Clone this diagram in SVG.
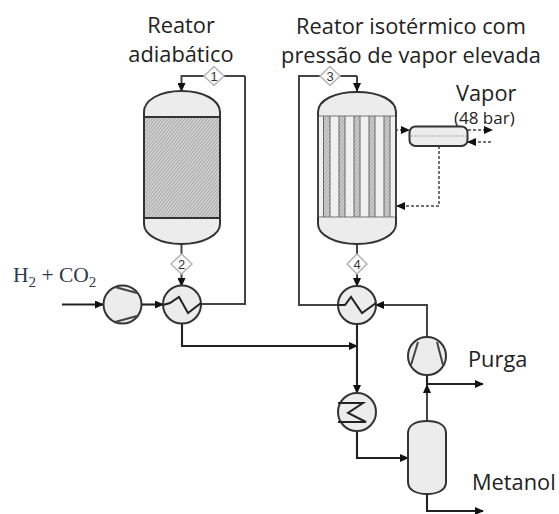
<svg xmlns="http://www.w3.org/2000/svg" width="559" height="514" viewBox="0 0 559 514">
<style>
.lbl{font-family:"Open Sans","Noto Sans",sans-serif;font-size:21.800px;fill:#222}
.num{font-family:"Liberation Sans",sans-serif;font-size:13px;fill:#333;text-anchor:middle}
.eq{fill:#ececec;stroke:#333;stroke-width:2}
.ln{fill:none;stroke:#444;stroke-width:2}
.dk{fill:none;stroke:#222;stroke-width:2.100}
.ds{fill:none;stroke:#444;stroke-width:1.500;stroke-dasharray:3 2}
.dia{fill:#fff;stroke:#b4b4b4;stroke-width:1.500}
</style>
<defs>
<pattern id="h" width="2.500" height="2.500" patternUnits="userSpaceOnUse" patternTransform="rotate(-50)">
<rect width="2.500" height="2.500" fill="#d4d4d4"/><rect width="2.500" height="0.900" fill="#a0a0a0"/>
</pattern>
<marker id="a" markerWidth="9" markerHeight="8" refX="8" refY="4" orient="auto" markerUnits="userSpaceOnUse"><path d="M0 0L9 4L0 8z" fill="#111"/></marker>
</defs>
<g id="connectors">
<path class="ln" d="M245 76V304H201"/>
<path class="ln" d="M245 76H181.500V91" marker-end="url(#a)"/>
<path class="ln" d="M181.500 244V286" marker-end="url(#a)"/>
<path class="dk" d="M62 304.500H103" marker-end="url(#a)"/>
<path class="dk" d="M142 304.500H163" marker-end="url(#a)"/>
<path class="dk" d="M182 323V346H357" marker-end="url(#a)"/>
<path class="ln" d="M357 76V91" marker-end="url(#a)"/>
<path class="ln" d="M338 305H299V76H357"/>
<path class="ln" d="M357 244V286" marker-end="url(#a)"/>
<path class="dk" d="M357 323V393" marker-end="url(#a)"/>
<path class="ln" d="M427 337V305H376" marker-end="url(#a)"/>
<path class="ln" d="M427 421V385" marker-end="url(#a)"/>
<path class="dk" d="M427 375V384H483" marker-end="url(#a)"/>
<path class="dk" d="M357 431V458H408" marker-end="url(#a)"/>
<path class="dk" d="M427 494V511H483" marker-end="url(#a)"/>
<path class="ds" d="M395 130H409" marker-end="url(#a)"/>
<path class="ds" d="M468 130H492" marker-end="url(#a)"/>
<path class="ds" d="M491 142H468" marker-end="url(#a)"/>
<path class="ds" d="M439 146V206H397" marker-end="url(#a)"/>
</g>
<g id="reator-adiabatico">
<path class="eq" d="M144 117V112C144 100 160 91 181.500 91S220 100 220 112V117z"/>
<path class="eq" d="M144 218V224C144 235 160 244 181.500 244S220 235 220 224V218z"/>
<rect x="144" y="117" width="76" height="101" fill="url(#h)" stroke="#333" stroke-width="2"/>
</g>
<g id="reator-isotermico">
<path class="eq" d="M318 217V116V112C318 100 335 92 357 92S396 100 396 112V217V224C396 235 379 244 357 244S318 235 318 224z"/>
<rect x="319" y="116" width="76" height="101" fill="#f0f0f0"/>
<rect x="323.500" y="116" width="6.500" height="101" fill="url(#h)"/>
<rect x="339" y="116" width="6" height="101" fill="url(#h)"/>
<rect x="354" y="116" width="6" height="101" fill="url(#h)"/>
<rect x="369" y="116" width="6" height="101" fill="url(#h)"/>
<rect x="384" y="116" width="6" height="101" fill="url(#h)"/>
<path d="M319 116H395M319 217H395" stroke="#777" stroke-width="1" fill="none"/>
<path d="M330 116V217M339 116V217M345 116V217M354 116V217M360 116V217M369 116V217M375 116V217M384 116V217M323.500 116V217M390 116V217" stroke="#666" stroke-width="1" fill="none"/>
<path d="M318 116V217M396 116V217" class="ln"/>
</g>
<g id="trocador-vapor">
<rect class="eq" x="409.500" y="126.500" width="58" height="19.500" rx="6"/>
<path d="M411 136H466" stroke="#aaa" stroke-width="1" stroke-dasharray="2 1"/>
</g>
<g id="compressor-1">
<circle class="eq" cx="122.500" cy="304.500" r="19"/>
<path class="ln" d="M115 287L137 293M115 322L137 316"/>
</g>
<g id="trocador-1">
<circle class="eq" cx="182" cy="304.500" r="19"/>
<path class="dk" style="stroke-width:2" d="M163 305L170 303L179 297L188 313L201 303"/>
</g>
<g id="trocador-2">
<circle class="eq" cx="357" cy="305" r="19"/>
<path class="dk" style="stroke-width:2" d="M338 305L345 305L351 297L362 313L376 303"/>
</g>
<g id="compressor-2">
<circle class="eq" cx="427" cy="356" r="19"/>
<path class="ln" d="M411 365L418 342M443 365L437 342"/>
</g>
<g id="resfriador">
<circle class="eq" cx="357" cy="412" r="19"/>
<path class="dk" style="stroke-width:2" d="M338 403H363L348 413L366 422H338"/>
</g>
<g id="separador">
<path class="eq" d="M408 433C408 425 416 421 427 421S446 425 446 433V482C446 490 438 494 427 494S408 490 408 482z"/>
</g>
<g id="s1"><path class="dia" d="M214 66.500L224 76L214 85.500L204 76z"/><text class="num" x="214" y="80.500">1</text></g>
<g id="s2"><path class="dia" d="M181.500 254L192 264L181.500 274L171 264z"/><text class="num" x="181.500" y="268.500">2</text></g>
<g id="s3"><path class="dia" d="M330 66.500L340 76L330 85.500L320 76z"/><text class="num" x="330" y="80.500">3</text></g>
<g id="s4"><path class="dia" d="M357 254L367 264L357 274L347 264z"/><text class="num" x="357" y="268.500">4</text></g>
<g id="textos">
<text class="lbl" x="181" y="33" text-anchor="middle">Reator</text>
<text class="lbl" x="181" y="62" text-anchor="middle">adiabático</text>
<text class="lbl" x="411" y="34" text-anchor="middle">Reator isotérmico com</text>
<text class="lbl" x="411" y="62.500" text-anchor="middle">pressão de vapor elevada</text>
<text class="lbl" x="456" y="101">Vapor</text>
<text class="lbl" x="454" y="124" style="font-size:17px">(48 bar)</text>
<text class="lbl" x="468" y="367">Purga</text>
<text class="lbl" x="472" y="490">Metanol</text>
<text x="13" y="282" style="font-family:'Liberation Serif',serif;font-size:21.500px;fill:#2e3a4c">H<tspan dy="5" font-size="15">2</tspan><tspan dy="-5"> + CO</tspan><tspan dy="5" font-size="15">2</tspan></text>
</g>
</svg>
